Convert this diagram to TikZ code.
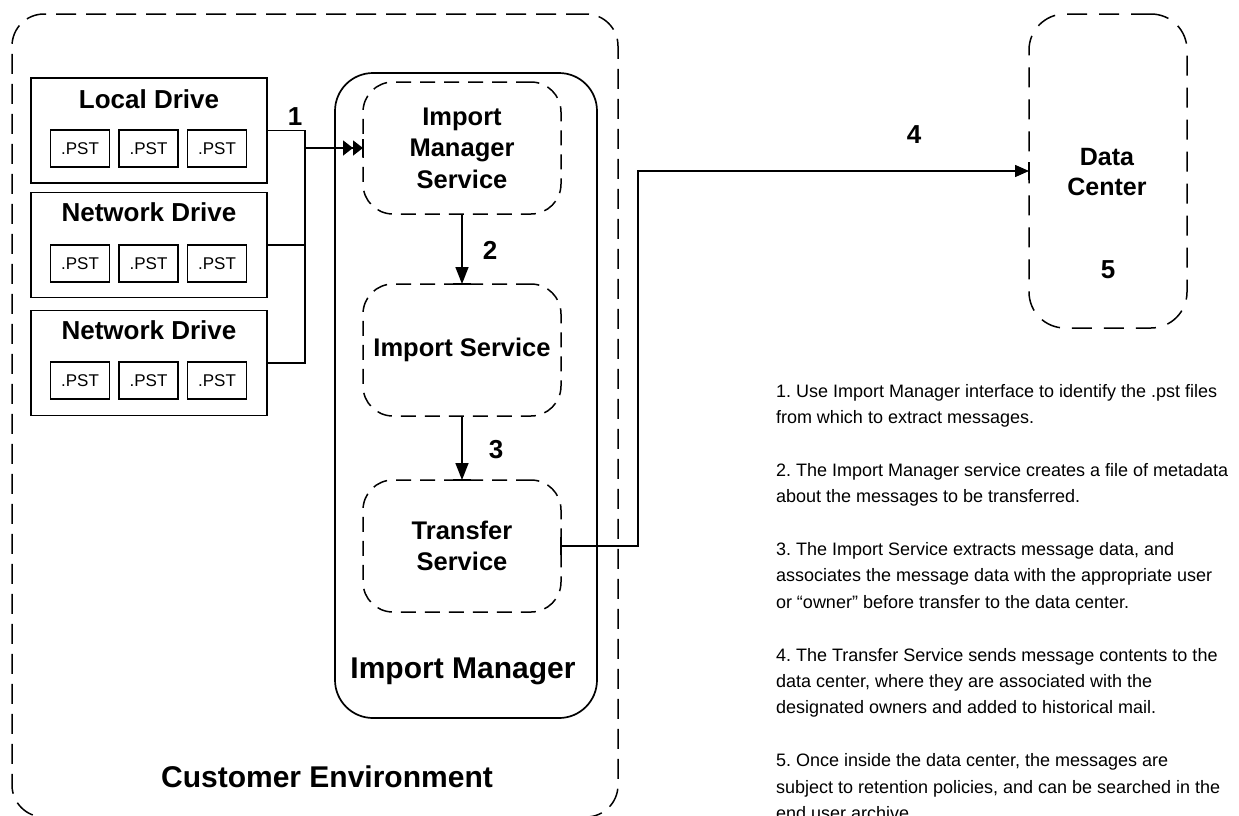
\documentclass[tikz,border=0pt]{standalone}
\usepackage{fontspec}
\setmainfont{Liberation Sans}
\usetikzlibrary{arrows.meta}
\frenchspacing

\tikzset{
  every node/.style={inner sep=0pt, outer sep=0pt},
  drive/.style={draw, line width=1.8pt, minimum width=236pt, minimum height=105pt},
  pst/.style={draw, line width=1.6pt, minimum width=59pt, minimum height=37pt,
    font=\fontsize{17}{20}\selectfont},
  drivetitle/.style={font=\fontsize{26}{31}\selectfont\bfseries},
  svc/.style={draw, line width=1.5pt, dash pattern=on 15pt off 9pt,
    rounded corners=30pt, minimum width=198pt, minimum height=132pt,
    align=center, font=\fontsize{25.5}{31.5}\selectfont\bfseries},
  zone/.style={draw, line width=1.5pt, dash pattern=on 20pt off 10pt, rounded corners=32pt},
  host/.style={draw, line width=1.7pt, rounded corners=38pt},
  biglabel/.style={font=\fontsize{30}{36}\selectfont\bfseries},
  steplabel/.style={font=\fontsize{26}{31}\selectfont\bfseries},
  conn/.style={line width=1.5pt},
  tick/.style={line width=1.6pt},
  tip/.style={-{Triangle[length=17pt,width=13pt]}},
  note/.style={font=\fontsize{18}{22}\selectfont, anchor=base west},
}

\begin{document}
\begin{tikzpicture}[x=1pt, y=-1pt]
\useasboundingbox (0,0) rectangle (1239,815);

% customer environment and the import manager host
\node[zone, minimum width=606pt, minimum height=803pt] (cust) at (315,415.5) {};
\node[host, minimum width=262pt, minimum height=645pt] (imgr) at (466,395.5) {};
\node[biglabel, anchor=base] (custlbl) at (327,787) {Customer Environment};
\node[biglabel, anchor=base] (imgrlbl) at (463,678) {Import Manager};

% source drives with their .pst files
\node[drive] (ld)  at (149,130.5) {};
\node[drive] (nd1) at (149,245) {};
\node[drive] (nd2) at (149,363) {};
\node[drivetitle] (ldt)  at (149,99)    {Local Drive};
\node[drivetitle] (nd1t) at (149,212.5) {Network Drive};
\node[drivetitle] (nd2t) at (149,330.5) {Network Drive};
\foreach \r/\y in {a/148.5, b/263.5, c/380.5}{
  \node[pst] (p\r1) at (80,\y)    {.PST};
  \node[pst] (p\r2) at (148.5,\y) {.PST};
  \node[pst] (p\r3) at (217,\y)   {.PST};
}

% services inside the import manager
\node[svc] (ims) at (462,148) {Import\\Manager\\Service};
\node[svc] (is)  at (462,350) {Import Service};
\node[svc] (ts)  at (462,546) {Transfer\\Service};

% data center
\node[zone, rounded corners=36pt, dash pattern=on 20pt off 12pt,
      minimum width=158pt, minimum height=314pt] (dc) at (1108,171) {};
\node[align=center, font=\fontsize{25}{30}\selectfont\bfseries] (dct) at (1107,172) {Data\\Center};

% connectors
\coordinate (busT) at (305,130.5);
\coordinate (busB) at (305,363);
\coordinate (riser) at (638,0);
\draw[conn] (ld.east) -- (busT) -- (busB) -- (nd2.east);
\draw[conn] (nd1.east) -- (nd1.east -| busT);
\draw[conn, -{Triangle[length=10pt,width=15pt]Triangle[length=10pt,width=15pt]}]
  (busT |- ims.west) -- (ims.west);
\draw[conn, tip] (ims.south) -- (is.north);
\draw[conn, tip] (is.south) -- (ts.north);
\draw[conn, -{Triangle[length=14pt,width=12pt]}]
  (ts.east) -- (ts.east -| riser) |- (dc.west);

% solid marks where connectors meet dashed borders
\draw[tick] ([yshift=-9pt]ims.west) -- ([yshift=9pt]ims.west);
\draw[tick] ([xshift=-9pt]is.north) -- ([xshift=9pt]is.north);
\draw[tick] ([xshift=-9pt]ts.north) -- ([xshift=9pt]ts.north);
\draw[tick] ([yshift=-9pt]ts.east) -- ([yshift=9pt]ts.east);
\draw[tick] ([yshift=-9pt]dc.west) -- ([yshift=9pt]dc.west);

% step numbers
\node[steplabel] (s1) at (295,117) {1};
\node[steplabel] (s2) at (490,250) {2};
\node[steplabel] (s3) at (496,450) {3};
\node[steplabel] (s4) at (914,135) {4};
\node[steplabel] (s5) at (1108,270) {5};

% step descriptions
\foreach \k/\s [count=\n] in {
  0/{1. Use Import Manager interface to identify the .pst files},
  1/{from which to extract messages.},
  3/{2. The Import Manager service creates a file of metadata},
  4/{about the messages to be transferred.},
  6/{3. The Import Service extracts message data, and},
  7/{associates the message data with the appropriate user},
  8/{or “owner” before transfer to the data center.},
  10/{4. The Transfer Service sends message contents to the},
  11/{data center, where they are associated with the},
  12/{designated owners and added to historical mail.},
  14/{5. Once inside the data center, the messages are},
  15/{subject to retention policies, and can be searched in the},
  16/{end user archive.}}{
  \node[note] (t\n) at (776,{397+26.4*\k}) {\s};
}
\end{tikzpicture}
\end{document}
